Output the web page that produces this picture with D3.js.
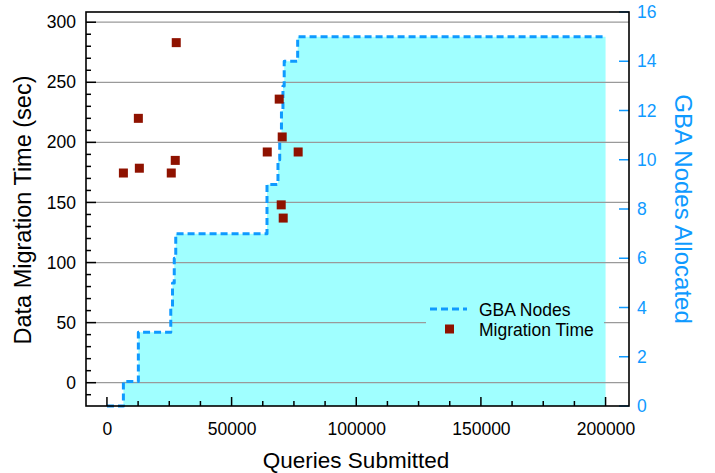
<!DOCTYPE html>
<html>
<head>
<meta charset="utf-8">
<script src="https://cdn.jsdelivr.net/npm/d3@7"></script>
<style>
  html, body { margin: 0; padding: 0; background: #fff; }
  svg { display: block; font-family: "Liberation Sans", Arial, Helvetica, sans-serif; }
</style>
</head>
<body>
<svg id="chart" width="715" height="473"></svg>
<script>
// GBA node allocation over the run (step function)
const nodeQueries = [0, 6600, 12600, 25600, 26300, 27000, 27600, 64200, 68600, 69300, 70000, 70600, 71100, 76500, 200000];
const nodeCounts  = [0, 1, 3, 4, 5, 6, 7, 9, 10, 11, 12, 13, 14, 15, 15];

// Individual data migrations
const migQueries = [6600, 12600, 13000, 25800, 27400, 27800, 64300, 69100, 69900, 70300, 70700, 76700];
const migSeconds = [174.5, 220, 178.5, 174.5, 185, 283, 192, 236, 148, 204.5, 137, 192];

// Tick values
const xTicks = [0, 50000, 100000, 150000, 200000];
const leftTicks = [0, 50, 100, 150, 200, 250, 300];
const rightTicks = [0, 2, 4, 6, 8, 10, 12, 14, 16];

const legendLabels = ["GBA Nodes", "Migration Time"];

const BLUE = "#0f9aff";
const CYAN = "#a0ffff";
const RED = "#8f1200";

const svg = d3.select("#chart");
const L = 86, R = 629, T = 12, B = 406;

const x = d3.scaleLinear().domain([-8400, 209400]).range([L, R]);
const yL = d3.scaleLinear().domain([-19.4, 308.5]).range([B, T]);
const yR = d3.scaleLinear().domain([0, 16]).range([B, T]);

const nodeData = nodeQueries.map((q, i) => ({ q, n: nodeCounts[i] }));
const migData = migQueries.map((q, i) => ({ q, s: migSeconds[i] }));

// Filled area under the node count
const area = d3.area().curve(d3.curveStepAfter)
  .x(d => x(d.q)).y0(yR(0)).y1(d => yR(d.n));
svg.append("path").datum(nodeData).attr("d", area).attr("fill", CYAN);

// Horizontal grid lines
svg.append("g").selectAll("line").data(leftTicks).join("line")
  .attr("x1", L).attr("x2", R)
  .attr("y1", d => yL(d)).attr("y2", d => yL(d))
  .attr("stroke", "#9a9a9a").attr("stroke-width", 1.3);

// Legend backdrop
const lg = svg.append("g");
lg.append("rect").attr("x", 426).attr("y", 296).attr("width", 178).attr("height", 48).attr("fill", CYAN);

// Dashed step line
const line = d3.line().curve(d3.curveStepAfter).x(d => x(d.q)).y(d => yR(d.n));
svg.append("path").datum(nodeData).attr("d", line)
  .attr("fill", "none").attr("stroke", BLUE).attr("stroke-width", 3)
  .attr("stroke-dasharray", "7,4").attr("stroke-linejoin", "round");

// Migration time markers
svg.append("g").selectAll("rect").data(migData).join("rect")
  .attr("x", d => x(d.q) - 4.5).attr("y", d => yL(d.s) - 4.5)
  .attr("width", 9).attr("height", 9).attr("fill", RED);

// Left axis (inward ticks)
const leftAxis = d3.axisLeft(yL).tickValues(leftTicks).tickSize(0).tickPadding(10).tickFormat(d3.format("d"));
const gl = svg.append("g").attr("transform", `translate(${L},0)`).call(leftAxis);
gl.select(".domain").remove();
gl.selectAll("text").attr("font-size", 17.5).attr("fill", "#000").attr("font-family", "Liberation Sans, Arial, sans-serif");
const minorL = d3.range(-10, 301, 10);
svg.append("g").selectAll("line").data(minorL).join("line")
  .attr("x1", L).attr("x2", d => L + (d % 50 === 0 ? 10 : 5))
  .attr("y1", d => yL(d)).attr("y2", d => yL(d))
  .attr("stroke", "#000").attr("stroke-width", 1.5);

// Bottom axis (inward ticks)
const bottomAxis = d3.axisBottom(x).tickValues(xTicks).tickSize(0).tickPadding(17).tickFormat(d3.format("d"));
const gb = svg.append("g").attr("transform", `translate(0,${B})`).call(bottomAxis);
gb.select(".domain").remove();
gb.selectAll("text").attr("font-size", 17.5).attr("fill", "#000").attr("font-family", "Liberation Sans, Arial, sans-serif");
const minorX = d3.range(0, 200001, 12500);
svg.append("g").selectAll("line").data(minorX).join("line")
  .attr("x1", d => x(d)).attr("x2", d => x(d))
  .attr("y1", B).attr("y2", d => B - (d % 50000 === 0 ? 9 : 5))
  .attr("stroke", "#000").attr("stroke-width", 1.5);

// Right axis (blue, inward ticks)
const rightAxis = d3.axisRight(yR).tickValues(rightTicks).tickSize(0).tickPadding(8).tickFormat(d3.format("d"));
const gr = svg.append("g").attr("transform", `translate(${R},0)`).call(rightAxis);
gr.select(".domain").remove();
gr.selectAll("text").attr("font-size", 17.5).attr("fill", BLUE).attr("font-family", "Liberation Sans, Arial, sans-serif");
svg.append("g").selectAll("line").data(rightTicks).join("line")
  .attr("x1", R - 10).attr("x2", R)
  .attr("y1", d => yR(d)).attr("y2", d => yR(d))
  .attr("stroke", BLUE).attr("stroke-width", 1.5);

// Frame
svg.append("rect").attr("x", L).attr("y", T).attr("width", R - L).attr("height", B - T)
  .attr("fill", "none").attr("stroke", "#000").attr("stroke-width", 1.6);

// Axis titles
svg.append("text").attr("x", 356).attr("y", 468).attr("text-anchor", "middle")
  .attr("font-size", 22.5).attr("fill", "#000").text("Queries Submitted");
svg.append("text").attr("transform", "translate(31,210) rotate(-90)").attr("text-anchor", "middle")
  .attr("font-size", 23.5).attr("fill", "#000").text("Data Migration Time (sec)");
svg.append("text").attr("transform", "translate(675,209) rotate(90)").attr("text-anchor", "middle")
  .attr("font-size", 24).attr("fill", BLUE).text("GBA Nodes Allocated");

// Legend entries
lg.append("line").attr("x1", 430).attr("x2", 467).attr("y1", 309).attr("y2", 309)
  .attr("stroke", BLUE).attr("stroke-width", 3).attr("stroke-dasharray", "7,4");
lg.append("rect").attr("x", 445).attr("y", 324.5).attr("width", 9).attr("height", 9).attr("fill", RED);
lg.selectAll("text").data(legendLabels).join("text")
  .attr("x", 479).attr("y", (d, i) => 316 + i * 19.5)
  .attr("font-size", 17.5).attr("fill", "#000").text(d => d);
</script>
</body>
</html>
